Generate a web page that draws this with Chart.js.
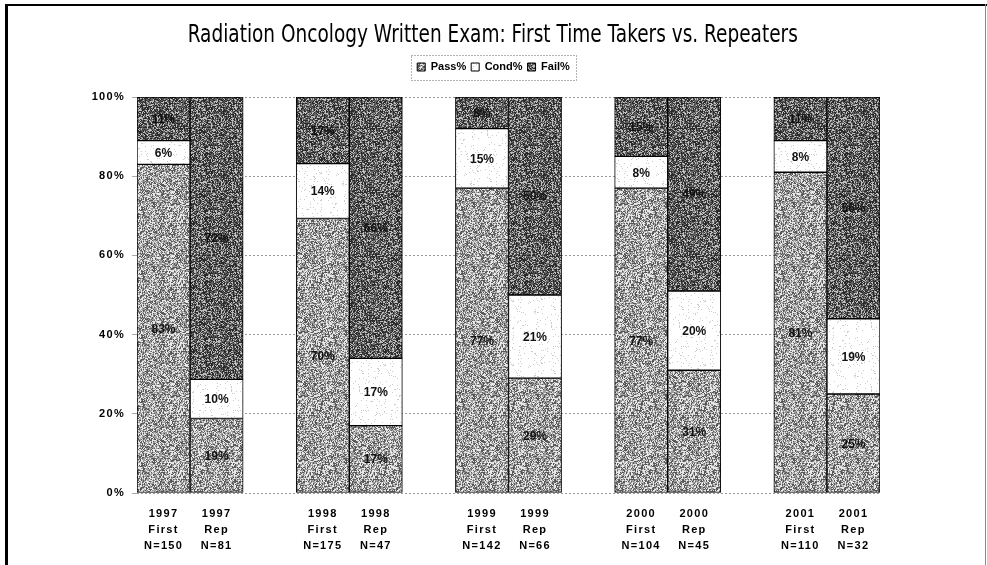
<!DOCTYPE html>
<html>
<head>
<meta charset="utf-8">
<script src="https://cdn.jsdelivr.net/npm/chart.js@4.4.1/dist/chart.umd.min.js"></script>
<style>
  html, body { margin: 0; padding: 0; background: #fff; }
  #wrap { width: 987px; height: 565px; }
</style>
</head>
<body>
<div id="wrap"><canvas id="c" width="987" height="565"></canvas></div>
<script>
// ---- Data ----
const xLabels = [
  ['1997', 'First', 'N=150'], ['1997', 'Rep', 'N=81'], [''],
  ['1998', 'First', 'N=175'], ['1998', 'Rep', 'N=47'], [''],
  ['1999', 'First', 'N=142'], ['1999', 'Rep', 'N=66'], [''],
  ['2000', 'First', 'N=104'], ['2000', 'Rep', 'N=45'], [''],
  ['2001', 'First', 'N=110'], ['2001', 'Rep', 'N=32']
];
const passPct = [83, 19, null, 70, 17, null, 77, 29, null, 77, 31, null, 81, 25];
const condPct = [6, 10, null, 14, 17, null, 15, 21, null, 8, 20, null, 8, 19];
const failPct = [11, 72, null, 17, 66, null, 8, 50, null, 15, 49, null, 11, 56];
const yTicks = [0, 20, 40, 60, 80, 100];
const seriesNames = ['Pass%', 'Cond%', 'Fail%'];
const titleText = 'Radiation Oncology Written Exam: First Time Takers vs. Repeaters';

// 100% stacked: normalise each column by its total
function normalise(arr) {
  return arr.map((v, i) => {
    if (v == null) return null;
    const t = passPct[i] + condPct[i] + failPct[i];
    return v / t * 100;
  });
}

// ---- Speckled fill patterns (deterministic hash, styling only) ----
function hash(x, y, s) {
  const v = Math.sin(x * 12.9898 + y * 78.233 + s * 37.719) * 43758.5453;
  return v - Math.floor(v);
}
function makePattern(levels, seed) {
  const size = 64;
  const cv = document.createElement('canvas');
  cv.width = size; cv.height = size;
  const cx = cv.getContext('2d');
  const img = cx.createImageData(size, size);
  for (let y = 0; y < size; y++) {
    for (let x = 0; x < size; x++) {
      const h = hash(x, y, seed);
      let acc = 0, g = levels[levels.length - 1][1];
      for (const [p, val] of levels) { acc += p; if (h < acc) { g = val; break; } }
      const k = (y * size + x) * 4;
      img.data[k] = img.data[k + 1] = img.data[k + 2] = g;
      img.data[k + 3] = 255;
    }
  }
  cx.putImageData(img, 0, 0);
  return cx.createPattern(cv, 'repeat');
}
const ctx0 = document.getElementById('c').getContext('2d');
const passFill = makePattern([[0.33, 232], [0.37, 158], [0.30, 88]], 1);
const condFill = makePattern([[0.94, 255], [0.06, 205]], 2);
const failFill = makePattern([[0.25, 190], [0.35, 100], [0.40, 42]], 3);

// ---- Plugins ----
const bgFrame = {
  id: 'bgFrame',
  beforeDraw(chart) {
    const c = chart.ctx;
    c.save();
    c.fillStyle = '#fff';
    c.fillRect(0, 0, chart.width, chart.height);
    c.restore();
  },
  afterDraw(chart) {
    const c = chart.ctx;
    c.save();
    c.fillStyle = '#000';
    c.fillRect(5, 4, 3, chart.height - 4);
    c.fillRect(5, 4, chart.width - 5, 2);
    c.fillStyle = '#888';
    c.fillRect(985, 4, 1, chart.height - 4);
    // dashed legend frame
    const lg = chart.legend;
    if (lg && lg.legendHitBoxes && lg.legendHitBoxes.length) {
      let l = Infinity, r = -Infinity, t = Infinity, b = -Infinity;
      lg.legendHitBoxes.forEach(h => {
        l = Math.min(l, h.left); r = Math.max(r, h.left + h.width);
        t = Math.min(t, h.top); b = Math.max(b, h.top + h.height);
      });
      c.strokeStyle = '#666';
      c.lineWidth = 1;
      c.setLineDash([1, 2]);
      c.strokeRect(Math.round(l - 6) + 0.5, Math.round(t - 7) + 0.5, Math.round(r - l + 12), Math.round(b - t + 14));
    }
    c.restore();
  }
};

// letter-spaced axis labels and horizontally condensed title
const textTweaks = {
  id: 'textTweaks',
  beforeDraw(chart) {
    Object.values(chart.scales).forEach(s => {
      if (s._spaced) return;
      const orig = s.drawLabels;
      s.drawLabels = function (area) {
        const c = this.ctx;
        const prev = c.letterSpacing;
        c.letterSpacing = '1.3px';
        orig.call(this, area);
        c.letterSpacing = prev || '0px';
      };
      s._spaced = true;
    });
    const tb = chart.titleBlock;
    if (tb && !tb._condensed) {
      const origDraw = tb.draw;
      tb.draw = function () {
        const c = this.ctx;
        const cx = (this.left + this.right) / 2 - 3;
        c.save();
        c.translate(cx, 0);
        c.scale(0.74, 1);
        c.translate(-cx, 0);
        origDraw.call(this);
        c.restore();
      };
      tb._condensed = true;
    }
  }
};

const valueLabels = {
  id: 'valueLabels',
  afterDatasetsDraw(chart) {
    const c = chart.ctx;
    c.save();
    c.font = 'bold 12px "Liberation Sans", Arial, sans-serif';
    c.textAlign = 'center';
    c.textBaseline = 'middle';
    c.fillStyle = '#111';
    chart.data.datasets.forEach((ds, di) => {
      const meta = chart.getDatasetMeta(di);
      meta.data.forEach((el, i) => {
        const v = ds.rawPct[i];
        if (v == null) return;
        const p = el.getProps(['x', 'y', 'base'], true);
        c.fillText(v + '%', p.x, (p.y + p.base) / 2 + 1);
      });
    });
    c.restore();
  }
};

// ---- Chart ----
new Chart(ctx0, {
  type: 'bar',
  data: {
    labels: xLabels,
    datasets: [
      { label: seriesNames[0], data: normalise(passPct), rawPct: passPct, backgroundColor: passFill },
      { label: seriesNames[1], data: normalise(condPct), rawPct: condPct, backgroundColor: condFill },
      { label: seriesNames[2], data: normalise(failPct), rawPct: failPct, backgroundColor: failFill }
    ].map(d => Object.assign(d, {
      borderColor: '#000', borderWidth: 1, borderSkipped: false,
      barPercentage: 1, categoryPercentage: 1
    }))
  },
  options: {
    responsive: false,
    devicePixelRatio: 1,
    animation: false,
    events: [],
    layout: { padding: { left: 0, right: 0, top: 0, bottom: 0 } },
    plugins: {
      tooltip: { enabled: false },
      title: {
        display: true,
        text: titleText,
        color: '#000',
        font: { family: '"DejaVu Sans", sans-serif', size: 25, weight: 'normal', lineHeight: 1.2 },
        padding: { top: 20, bottom: 6.5 }
      },
      subtitle: {
        display: true,
        text: '',
        font: { size: 10, lineHeight: 1 },
        padding: { top: 0, bottom: 4.5 },
        weight: 500
      },
      legend: {
        display: true,
        position: 'top',
        labels: {
          boxWidth: 8, boxHeight: 8, padding: 5,
          color: '#000',
          font: { family: '"Liberation Sans", Arial, sans-serif', size: 11, weight: 'bold' }
        }
      }
    },
    scales: {
      x: {
        stacked: true,
        grid: { display: false },
        border: { display: false },
        ticks: {
          padding: 5,
          maxRotation: 0,
          autoSkip: false,
          color: '#000',
          font: { family: '"Liberation Sans", Arial, sans-serif', size: 11, weight: 'bold', lineHeight: 1.45 }
        },
        afterFit(s) { s.height = 72; }
      },
      y: {
        stacked: true,
        min: 0, max: 100,
        afterBuildTicks(s) { s.ticks = yTicks.map(v => ({ value: v })); },
        grid: { color: '#999', lineWidth: 1, tickLength: 5, tickColor: '#aaa' },
        border: { display: false, dash: [2, 2] },
        ticks: {
          padding: 7,
          color: '#000',
          font: { family: '"Liberation Sans", Arial, sans-serif', size: 11, weight: 'bold' },
          callback: v => v + '%'
        },
        afterFit(s) { s.width = 137; }
      },
      y2: {
        position: 'right',
        display: true,
        grid: { display: false },
        border: { display: false },
        ticks: { display: false },
        afterFit(s) { s.width = 107; }
      }
    }
  },
  plugins: [bgFrame, textTweaks, valueLabels]
});
</script>
</body>
</html>
